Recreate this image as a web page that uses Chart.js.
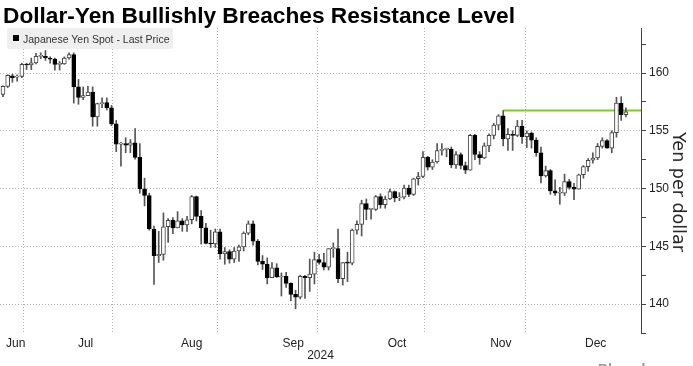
<!DOCTYPE html>
<html>
<head>
<meta charset="utf-8">
<script src="https://cdn.jsdelivr.net/npm/chart.js@4.4.1/dist/chart.umd.min.js"></script>
<style>
  html, body { margin: 0; padding: 0; background: #fff; }
  #wrap { position: relative; width: 693px; height: 366px; overflow: hidden; }
  #chart { position: absolute; left: 0; top: 0; }
  #title { position: absolute; left: 3px; top: 2px; line-height: 1; white-space: nowrap;
           font: bold 22.7px "Liberation Sans", Arial, sans-serif; color: #000; }
  #legend { position: absolute; left: 7px; top: 28px; width: 166px; height: 21px;
            background: #efefef; border-radius: 2px; }
  #legend .sq { position: absolute; left: 6px; top: 7px; width: 6px; height: 6px; background: #000; }
  #legend .txt { position: absolute; left: 16px; top: 5px; line-height: 1; white-space: nowrap;
                 font: 10.5px "Liberation Sans", Arial, sans-serif; color: #333; }
  #ytitle { position: absolute; left: 679px; top: 192px; line-height: 1; white-space: nowrap;
            transform: translate(-50%, -50%) rotate(90deg);
            font: 17.5px "DejaVu Sans", sans-serif; color: #222; }
  #source { position: absolute; left: 598px; top: 361px; white-space: nowrap;
            font: bold 14px "Liberation Sans", Arial, sans-serif; color: #999; }
</style>
</head>
<body>
<div id="wrap">
  <canvas id="chart"></canvas>
  <div id="title">Dollar-Yen Bullishly Breaches Resistance Level</div>
  <div id="legend"><div class="sq"></div><div class="txt">Japanese Yen Spot - Last Price</div></div>
  <div id="ytitle">Yen per dollar</div>
  <div id="source">Bloomberg</div>
</div>
<script>
// trading sessions shown on the chart
const dates = [
  '2024-06-20','2024-06-21','2024-06-24','2024-06-25','2024-06-26','2024-06-27','2024-06-28',
  '2024-07-01','2024-07-02','2024-07-03','2024-07-04','2024-07-05','2024-07-08','2024-07-09','2024-07-10','2024-07-11','2024-07-12',
  '2024-07-15','2024-07-16','2024-07-17','2024-07-18','2024-07-19','2024-07-22','2024-07-23','2024-07-24','2024-07-25','2024-07-26',
  '2024-07-29','2024-07-30','2024-07-31',
  '2024-08-01','2024-08-02','2024-08-05','2024-08-06','2024-08-07','2024-08-08','2024-08-09','2024-08-12','2024-08-13','2024-08-14',
  '2024-08-15','2024-08-16','2024-08-19','2024-08-20','2024-08-21','2024-08-22','2024-08-23','2024-08-26','2024-08-27','2024-08-28',
  '2024-08-29','2024-08-30',
  '2024-09-02','2024-09-03','2024-09-04','2024-09-05','2024-09-06','2024-09-09','2024-09-10','2024-09-11','2024-09-12','2024-09-13',
  '2024-09-16','2024-09-17','2024-09-18','2024-09-19','2024-09-20','2024-09-23','2024-09-24','2024-09-25','2024-09-26','2024-09-27',
  '2024-09-30',
  '2024-10-01','2024-10-02','2024-10-03','2024-10-04','2024-10-07','2024-10-08','2024-10-09','2024-10-10','2024-10-11','2024-10-14',
  '2024-10-15','2024-10-16','2024-10-17','2024-10-18','2024-10-21','2024-10-22','2024-10-23','2024-10-24','2024-10-25','2024-10-28',
  '2024-10-29','2024-10-30','2024-10-31',
  '2024-11-01','2024-11-04','2024-11-05','2024-11-06','2024-11-07','2024-11-08','2024-11-11','2024-11-12','2024-11-13','2024-11-14',
  '2024-11-15','2024-11-18','2024-11-19','2024-11-20','2024-11-21','2024-11-22','2024-11-25','2024-11-26','2024-11-27','2024-11-28',
  '2024-11-29',
  '2024-12-02','2024-12-03','2024-12-04','2024-12-05','2024-12-06','2024-12-09','2024-12-10','2024-12-11','2024-12-12','2024-12-13',
  '2024-12-16','2024-12-17','2024-12-18','2024-12-19','2024-12-20','2024-12-23'
];

const open = [
  158.15,158.85,159.75,159.65,159.70,160.75,160.70,
  160.88,161.45,161.45,161.30,161.20,160.75,160.80,161.30,161.60,158.80,157.90,158.05,158.35,156.20,157.35,157.45,157.00,155.60,153.85,153.90,153.75,153.95,152.70,
  149.98,149.40,146.50,144.20,144.30,146.70,147.25,146.60,147.20,146.85,147.30,149.30,147.60,146.60,145.25,145.20,146.25,144.35,144.55,143.90,144.60,144.95,
  146.15,146.95,145.45,143.70,143.45,142.30,143.15,142.35,142.40,141.80,140.85,140.60,142.40,142.30,142.60,143.85,143.60,143.20,144.80,144.80,142.20,
  143.60,143.55,146.40,146.90,148.70,148.20,148.20,149.30,148.60,149.10,149.75,149.20,149.25,150.05,149.50,150.85,151.05,152.70,151.85,152.30,153.30,153.40,153.40,
  152.05,152.95,152.00,151.60,154.60,152.95,152.65,153.70,154.60,155.50,156.30,154.30,154.70,154.60,155.40,154.50,154.80,154.20,153.10,151.10,151.55,
  149.80,149.60,149.60,150.60,150.10,149.95,151.20,151.90,152.45,152.65,153.65,154.15,153.50,154.85,157.40,156.40
];
const high = [
  158.90,159.85,159.90,159.85,160.85,160.85,161.30,
  161.70,161.75,161.95,161.40,161.30,161.00,161.40,161.75,161.75,159.45,158.80,158.85,158.80,157.40,157.85,157.85,157.20,155.90,154.00,154.40,154.25,155.20,153.90,
  150.90,149.60,146.75,146.30,147.90,147.40,147.50,148.00,147.40,147.60,149.40,149.35,148.10,147.00,146.40,146.50,146.50,144.90,144.70,144.90,145.10,146.25,
  147.20,147.20,145.60,144.20,144.00,143.60,143.50,142.70,142.75,141.85,141.20,142.50,142.50,143.90,144.50,144.30,144.40,144.80,145.30,146.50,143.60,
  144.50,146.50,147.20,149.00,149.10,148.30,149.40,149.55,149.35,149.95,149.80,149.65,150.30,150.30,150.90,151.40,153.20,152.80,152.50,153.90,153.90,153.50,153.60,
  153.20,153.10,152.30,154.70,154.70,153.20,153.95,154.75,155.65,156.40,156.75,155.20,155.00,155.90,155.90,155.00,154.90,154.40,153.60,151.95,151.65,
  150.75,150.10,151.25,150.80,150.45,151.25,152.00,152.60,153.10,153.90,154.40,154.25,155.00,157.90,157.95,157.00
];
const low = [
  157.95,158.75,159.20,159.30,159.60,160.30,160.30,
  160.80,161.25,161.10,160.85,160.25,160.25,160.75,161.20,157.40,157.30,157.70,158.05,155.40,155.40,157.00,156.80,155.45,153.20,151.95,153.10,153.10,152.55,149.60,
  148.50,146.40,141.70,143.60,143.80,145.35,146.10,146.60,146.30,146.30,146.95,147.20,145.20,145.20,144.90,144.90,143.90,143.45,143.55,143.60,143.70,144.60,
  146.00,145.10,143.40,143.00,141.75,142.30,142.30,140.70,141.45,140.30,139.60,140.45,140.50,141.10,141.75,143.45,142.95,142.95,144.05,141.85,141.65,
  141.95,143.40,146.05,145.90,147.30,147.35,148.10,148.30,148.30,149.05,148.85,148.95,149.10,149.30,149.40,150.30,150.95,151.60,151.65,152.20,152.90,152.75,151.80,
  151.75,151.70,151.30,151.60,152.50,152.10,152.60,153.20,154.30,155.10,153.70,153.30,153.30,154.50,153.90,153.55,153.50,152.80,150.50,151.00,149.50,
  149.40,148.65,149.40,149.95,149.05,149.95,150.90,151.50,152.20,152.50,153.50,153.50,153.10,154.45,155.90,156.20
];
const close = [
  158.85,159.80,159.60,159.70,160.75,160.70,160.88,
  161.45,161.45,161.30,161.20,160.75,160.80,161.30,161.60,158.80,157.90,158.05,158.35,156.20,157.35,157.45,157.00,155.60,153.85,153.90,153.75,153.95,152.70,149.98,
  149.40,146.50,144.20,144.30,146.70,147.25,146.60,147.20,146.85,147.30,149.30,147.60,146.60,145.25,145.20,146.25,144.35,144.55,143.90,144.60,144.95,146.15,
  146.95,145.45,143.70,143.45,142.30,143.15,142.35,142.40,141.80,140.85,140.60,142.40,142.30,142.60,143.85,143.60,143.20,144.80,144.80,142.20,143.60,
  143.55,146.40,146.90,148.70,148.20,148.20,149.30,148.60,149.10,149.75,149.20,149.25,150.05,149.50,150.85,151.05,152.70,151.85,152.30,153.30,153.40,153.40,152.05,
  152.95,152.00,151.60,154.60,152.95,152.65,153.70,154.60,155.50,156.30,154.30,154.70,154.60,155.40,154.50,154.80,154.20,153.10,151.10,151.55,149.80,
  149.60,149.60,150.60,150.10,149.95,151.20,151.90,152.45,152.65,153.65,154.15,153.50,154.85,157.40,156.40,156.65
];

// resistance: Nov 15 high
const resistanceLevel = 156.75;
const resistanceFrom = '2024-11-15';

const monthLabels = ['Jun', 'Jul', 'Aug', 'Sep', 'Oct', 'Nov', 'Dec'];
const yearLabel = '2024';
const yMajorTicks = [140, 145, 150, 155, 160];
const yMinorTicks = [137.5, 142.5, 147.5, 152.5, 157.5, 162.5];

// visible window, in sessions from Jul 1
const X_MIN = -7.63, X_MAX = 128.2;
const Y_MIN = 137.5, Y_MAX = 163.9;

const GRID = '#b4b4b4';
const FONT = 'Liberation Sans';

// x position = session number counted from Jul 1
const base = dates.indexOf('2024-07-01');
const xs = dates.map((d, i) => i - base);

const bodies = xs.map((x, i) => ({ x: x, y: [open[i], close[i]] }));
const wicks = xs.map((x, i) => ({ x: x, y: [low[i], high[i]] }));
const isUp = open.map((o, i) => close[i] >= o);

const resistance = [
  { x: xs[dates.indexOf(resistanceFrom)], y: resistanceLevel },
  { x: X_MAX, y: resistanceLevel }
];

// month boundaries: grid line one session before the month's first session
const monthGrid = [];
for (let i = 1; i < dates.length; i++) {
  if (dates[i].slice(5, 7) !== dates[i - 1].slice(5, 7)) monthGrid.push(xs[i] - 1);
}
const edges = [X_MIN, ...monthGrid, X_MAX];
const xTicks = [];
monthGrid.forEach(v => xTicks.push({ value: v, grid: true }));
monthLabels.forEach((m, k) => xTicks.push({ value: (edges[k] + edges[k + 1]) / 2, lbl: m }));
xTicks.sort((a, b) => a.value - b.value);

const yTicks = [...yMajorTicks, ...yMinorTicks].sort((a, b) => a - b).map(v => ({ value: v }));

Chart.defaults.font.family = FONT;
Chart.defaults.color = '#222';

new Chart(document.getElementById('chart'), {
  type: 'bar',
  data: {
    datasets: [
      {
        type: 'bar',
        data: bodies,
        backgroundColor: isUp.map(u => u ? '#ffffff' : '#000000'),
        borderColor: isUp.map(u => u ? '#444444' : '#000000'),
        borderWidth: 1,
        borderSkipped: false,
        barThickness: 4,
        minBarLength: 1,
        grouped: false,
        order: 0
      },
      {
        type: 'bar',
        data: wicks,
        backgroundColor: '#555555',
        borderWidth: 0,
        barThickness: 1,
        grouped: false,
        order: 1
      },
      {
        type: 'line',
        data: resistance,
        borderColor: '#7ccf1e',
        borderWidth: 2,
        pointRadius: 0,
        fill: false,
        order: 2
      }
    ]
  },
  options: {
    responsive: true,
    maintainAspectRatio: false,
    devicePixelRatio: 1,
    animation: false,
    layout: { padding: { top: 28, left: 0, right: 0, bottom: 0 } },
    plugins: { legend: { display: false }, tooltip: { enabled: false } },
    scales: {
      x: {
        type: 'linear',
        min: X_MIN,
        max: X_MAX,
        offset: false,
        afterBuildTicks: s => { s.ticks = xTicks.map(t => ({ ...t })); },
        afterFit: s => { s.height = 33; },
        grid: {
          color: c => (c.tick && c.tick.grid) ? GRID : 'rgba(0,0,0,0)',
          drawTicks: false,
          lineWidth: 1
        },
        border: { display: false, dash: [1, 2] },
        ticks: {
          autoSkip: false,
          maxRotation: 0,
          padding: 3,
          font: { size: 12 },
          callback: (v, i, t) => t[i].lbl || ''
        },
        title: { display: true, text: yearLabel, font: { size: 12 }, padding: { top: 0, bottom: 3 } }
      },
      y: {
        type: 'linear',
        position: 'right',
        min: Y_MIN,
        max: Y_MAX,
        afterBuildTicks: s => { s.ticks = yTicks.map(t => ({ ...t })); },
        afterFit: s => { s.width = 52; },
        grid: {
          color: c => (c.tick && yMajorTicks.includes(c.tick.value)) ? GRID : 'rgba(0,0,0,0)',
          tickColor: '#444',
          tickLength: 5,
          lineWidth: 1
        },
        border: { display: true, color: '#444', width: 1, dash: [1, 2] },
        ticks: {
          padding: 3,
          font: { size: 12 },
          callback: v => yMajorTicks.includes(v) ? String(v) : ''
        }
      }
    }
  }
});
</script>
</body>
</html>
